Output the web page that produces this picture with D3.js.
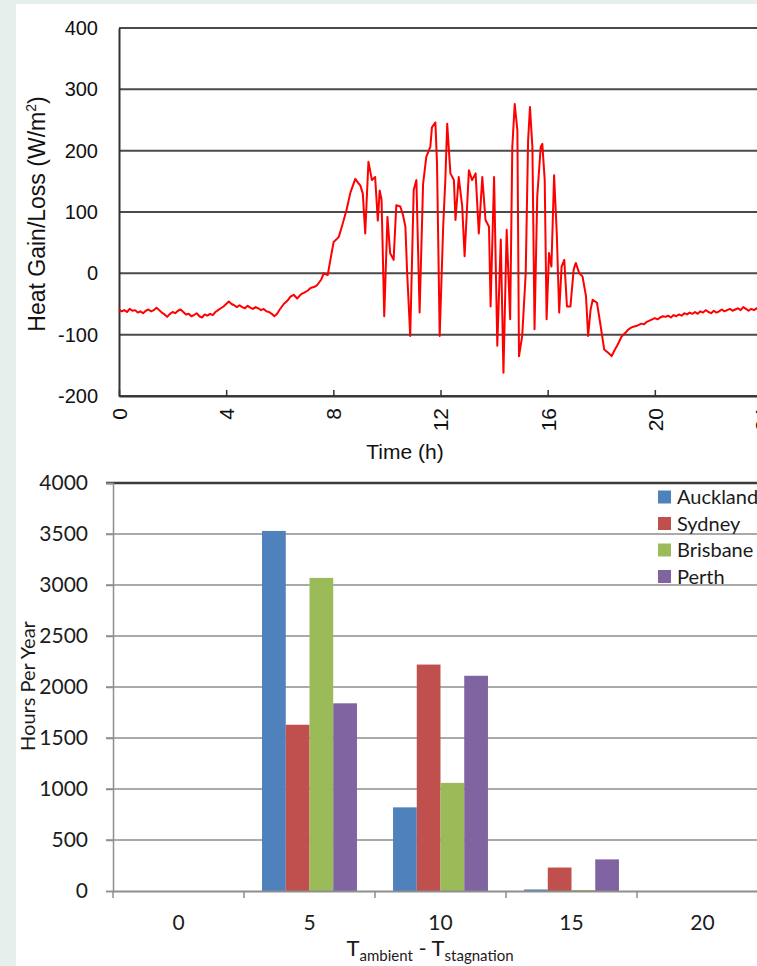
<!DOCTYPE html>
<html>
<head>
<meta charset="utf-8">
<script src="https://cdn.jsdelivr.net/npm/d3@7"></script>
<style>
body { margin: 0; background: #e6efec; }
svg { display: block; }
.line-chart text { font-family: "Liberation Sans", Arial, sans-serif; fill: #111; }
.bar-chart text { font-family: Lato, "Open Sans", sans-serif; fill: #1c1c1c; }
</style>
</head>
<body>
<svg id="chart" width="757" height="966"></svg>
<script>
// top chart: heat gain/loss over one day
var hours = [0.0, 0.1, 0.2, 0.3, 0.4, 0.5, 0.6, 0.7, 0.8, 0.9, 1.0, 1.1, 1.2, 1.3, 1.4, 1.5, 1.6, 1.7, 1.8, 1.9,
	2.0, 2.1, 2.2, 2.3, 2.4, 2.5, 2.6, 2.7, 2.8, 2.9, 3.0, 3.1, 3.2, 3.3, 3.4, 3.5, 3.6, 3.7, 3.8, 3.9,
	4.0, 4.1, 4.2, 4.3, 4.4, 4.5, 4.6, 4.7, 4.8, 4.9, 5.0, 5.1, 5.2, 5.3, 5.4, 5.5, 5.6, 5.7, 5.8, 5.9, 6.0,
	6.15, 6.3, 6.4, 6.52, 6.65, 6.8, 6.9, 7.05, 7.15, 7.3, 7.4, 7.55, 7.64, 7.79, 7.89, 8.01, 8.2, 8.33, 8.49, 8.64,
	8.82, 8.92, 9.01, 9.1, 9.19, 9.31, 9.44, 9.56, 9.66, 9.73, 9.8, 9.9, 10.02, 10.12, 10.25, 10.35, 10.5, 10.6, 10.69, 10.75,
	10.87, 11.0, 11.1, 11.22, 11.35, 11.47, 11.62, 11.68, 11.81, 11.87, 11.97, 12.1, 12.18, 12.25, 12.37, 12.5, 12.56, 12.68, 12.81, 12.9,
	13.06, 13.18, 13.31, 13.43, 13.56, 13.68, 13.81, 13.87, 14.0, 14.12, 14.25, 14.35, 14.47, 14.6, 14.68, 14.77, 14.87, 14.93, 15.05, 15.18,
	15.27, 15.34, 15.43, 15.51, 15.61, 15.74, 15.8, 15.89, 15.96, 16.05, 16.14, 16.24, 16.34, 16.43, 16.52, 16.62, 16.72, 16.85, 16.97, 17.05,
	17.18, 17.3, 17.43, 17.51, 17.6, 17.68, 17.84, 17.96, 18.11, 18.27, 18.39, 18.5, 18.58, 18.76, 18.9,
	19.0, 19.1, 19.2, 19.3, 19.4, 19.5, 19.6, 19.7, 19.8, 19.9, 20.0, 20.1, 20.2, 20.3, 20.4, 20.5, 20.6, 20.7, 20.8, 20.9,
	21.0, 21.1, 21.2, 21.3, 21.4, 21.5, 21.6, 21.7, 21.8, 21.9, 22.0, 22.1, 22.2, 22.3, 22.4, 22.5, 22.6, 22.7, 22.8, 22.9,
	23.0, 23.1, 23.2, 23.3, 23.4, 23.5, 23.6, 23.7, 23.8, 23.9, 24.0];
var heat = [-59, -62, -60, -63, -58, -61, -60, -64, -62, -65, -61, -59, -62, -60, -56, -60, -64, -67, -71, -66,
	-63, -65, -61, -59, -63, -67, -66, -70, -68, -65, -70, -72, -67, -69, -66, -68, -63, -60, -57, -54,
	-50, -46, -50, -52, -55, -52, -55, -57, -53, -56, -58, -55, -57, -60, -58, -62, -63, -66, -70, -66, -59,
	-50, -44, -38, -35, -41, -34, -32, -28, -24, -22, -19, -10, 0, -3, 22, 51, 59, 78, 103, 132,
	154, 148, 143, 130, 65, 182, 152, 157, 86, 135, 120, -70, 92, 33, 22, 111, 109, 95, 76, 6,
	-102, 136, 152, -64, 146, 190, 206, 238, 246, 179, -102, 76, 152, 244, 163, 152, 87, 157, 109, 28,
	168, 152, 163, 65, 157, 87, 76, -54, 157, -118, 55, -162, 71, -75, 206, 276, 233, -135, -102, 0,
	217, 271, 206, -91, 125, 206, 211, 152, -75, 33, 11, 160, 65, -64, 11, 22, -54, -54, 6, 17,
	0, -5, -37, -102, -60, -43, -48, -81, -124, -130, -135, -125, -119, -103, -97,
	-92, -89, -87, -86, -84, -82, -83, -79, -77, -75, -73, -75, -72, -70, -71, -69, -72, -68, -70, -67,
	-69, -65, -67, -64, -66, -63, -66, -62, -64, -60, -63, -65, -61, -64, -62, -59, -62, -60, -58, -61,
	-59, -57, -60, -55, -58, -61, -58, -60, -57, -61, -59];
var heatTicks = [-200, -100, 0, 100, 200, 300, 400];
var hourTicks = [0, 4, 8, 12, 16, 20, 24];

// bottom chart: hours per year by temperature difference
var tempBins = ["0", "5", "10", "15", "20"];
var cities = ["Auckland", "Sydney", "Brisbane", "Perth"];
var auckland = [0, 3530, 820, 15, 0];
var sydney = [0, 1630, 2220, 230, 0];
var brisbane = [0, 3070, 1060, 10, 0];
var perth = [0, 1840, 2110, 310, 0];
var yearTicks = [0, 500, 1000, 1500, 2000, 2500, 3000, 3500, 4000];

var cityColors = ["#4f81bd", "#c0504d", "#9bbb59", "#8064a2"];

var svg = d3.select("#chart");

svg.append("rect")
	.attr("x", 16)
	.attr("y", 4)
	.attr("width", 741)
	.attr("height", 962)
	.attr("fill", "#fff");

// plain hyphen for negatives, like the source chart
function plain(d) { return String(d); }

function drawLineChart(g) {
	var x = d3.scaleLinear().domain([0, 24]).range([119, 762]);
	var y = d3.scaleLinear().domain([-200, 400]).range([396, 28]);

	g.selectAll(".grid")
		.data(heatTicks)
		.enter().append("line")
		.attr("class", "grid")
		.attr("x1", x(0)).attr("x2", x(24))
		.attr("y1", function(d){ return y(d) })
		.attr("y2", function(d){ return y(d) })
		.attr("stroke", "#4a4a4a")
		.attr("stroke-width", 2);

	var yAxis = g.append("g")
		.attr("transform", "translate(" + x(0) + ",0)")
		.call(d3.axisLeft(y).tickValues(heatTicks).tickSize(0).tickPadding(21).tickFormat(plain));
	yAxis.select(".domain").attr("stroke", "#333").attr("stroke-width", 2);
	yAxis.selectAll("text").attr("font-size", 20).attr("fill", "#111");

	var xAxis = g.append("g")
		.attr("transform", "translate(0," + y(-200) + ")")
		.call(d3.axisBottom(x).tickValues(hourTicks).tickSizeInner(-6).tickSizeOuter(0).tickFormat(plain));
	xAxis.select(".domain").attr("stroke", "#333").attr("stroke-width", 2);
	xAxis.selectAll(".tick line").attr("stroke", "#333").attr("stroke-width", 1.5);
	xAxis.selectAll("text")
		.attr("font-size", 21)
		.attr("fill", "#111")
		.attr("text-anchor", "end")
		.attr("y", 0)
		.attr("dy", "0.35em")
		.attr("transform", "translate(0,12) rotate(-90)");

	var line = d3.line()
		.x(function(d, i){ return x(hours[i]) })
		.y(function(d){ return y(d) });

	g.append("path")
		.attr("d", line(heat))
		.attr("fill", "none")
		.attr("stroke", "#ff0000")
		.attr("stroke-width", 2)
		.attr("stroke-linejoin", "round");

	g.append("text")
		.attr("x", 405)
		.attr("y", 459)
		.attr("text-anchor", "middle")
		.attr("font-size", 21)
		.text("Time (h)");

	var title = g.append("text")
		.attr("transform", "translate(45,214) rotate(-90)")
		.attr("text-anchor", "middle")
		.attr("font-size", 23);
	title.append("tspan").text("Heat Gain/Loss (W/m");
	title.append("tspan").attr("font-size", 14).attr("dy", -9).text("2");
	title.append("tspan").attr("dy", 9).text(")");
}

function drawBarChart(g) {
	var series = [auckland, sydney, brisbane, perth];
	var x0 = d3.scaleBand().domain(tempBins).range([113, 768]);
	var x1 = d3.scaleBand().domain(cities).range([0, x0.bandwidth()]).paddingOuter(0.76);
	var y = d3.scaleLinear().domain([0, 4000]).range([891, 483]);

	g.selectAll(".grid")
		.data(yearTicks.slice(1))
		.enter().append("line")
		.attr("x1", x0.range()[0] - 7).attr("x2", x0.range()[1])
		.attr("y1", function(d){ return y(d) })
		.attr("y2", function(d){ return y(d) })
		.attr("stroke", function(d){ return d == 4000 ? "#3a3a3a" : "#8e8e8e" })
		.attr("stroke-width", function(d){ return d == 4000 ? 2.5 : 1.5 });

	var yAxis = g.append("g")
		.attr("transform", "translate(113,0)")
		.call(d3.axisLeft(y).tickValues(yearTicks).tickSize(7).tickPadding(18).tickFormat(plain));
	yAxis.select(".domain").attr("stroke", "#8e8e8e").attr("stroke-width", 1.5);
	yAxis.selectAll(".tick line").attr("stroke", "#8e8e8e").attr("stroke-width", 1.5);
	yAxis.selectAll("text").attr("font-size", 21).attr("fill", "#1c1c1c");

	// bars, one group per temperature bin
	var groups = g.selectAll(".bin")
		.data(tempBins)
		.enter().append("g")
		.attr("transform", function(d){ return "translate(" + x0(d) + ",0)" });

	groups.selectAll("rect")
		.data(function(d, i){ return cities.map(function(c, j){ return {city: c, value: series[j][i], k: j} }) })
		.enter().append("rect")
		.attr("x", function(d){ return x1(d.city) })
		.attr("width", x1.bandwidth())
		.attr("y", function(d){ return y(d.value) })
		.attr("height", function(d){ return y(0) - y(d.value) })
		.attr("fill", function(d){ return cityColors[d.k] });

	var xAxis = g.append("g")
		.attr("transform", "translate(0,891)")
		.call(d3.axisBottom(x0).tickSize(0).tickPadding(24));
	xAxis.select(".domain").attr("stroke", "#8e8e8e").attr("stroke-width", 2);
	xAxis.selectAll("text").attr("font-size", 21).attr("fill", "#1c1c1c");

	// tick marks sit between the bins
	g.selectAll(".bin-tick")
		.data(tempBins.concat(["end"]))
		.enter().append("line")
		.attr("x1", function(d, i){ return x0.range()[0] + i * x0.step() })
		.attr("x2", function(d, i){ return x0.range()[0] + i * x0.step() })
		.attr("y1", 891).attr("y2", 898)
		.attr("stroke", "#8e8e8e")
		.attr("stroke-width", 1.5);

	var legend = g.selectAll(".legend")
		.data(cities)
		.enter().append("g")
		.attr("transform", function(d, i){ return "translate(658," + (497 + i * 26.5) + ")" });
	legend.append("rect")
		.attr("x", 0).attr("y", -6.5)
		.attr("width", 13).attr("height", 13)
		.attr("fill", function(d, i){ return cityColors[i] });
	legend.append("text")
		.attr("x", 19)
		.attr("dy", "0.36em")
		.attr("font-size", 20)
		.text(function(d){ return d });

	var xt = g.append("text")
		.attr("x", 430)
		.attr("y", 956)
		.attr("text-anchor", "middle")
		.attr("font-size", 22);
	xt.append("tspan").text("T");
	xt.append("tspan").attr("font-size", 15).attr("dy", 5).text("ambient");
	xt.append("tspan").attr("dy", -5).text(" - T");
	xt.append("tspan").attr("font-size", 15).attr("dy", 5).text("stagnation");

	g.append("text")
		.attr("transform", "translate(35,686) rotate(-90)")
		.attr("text-anchor", "middle")
		.attr("font-size", 20)
		.text("Hours Per Year");
}

drawLineChart(svg.append("g").attr("class", "line-chart"));
drawBarChart(svg.append("g").attr("class", "bar-chart"));
</script>
</body>
</html>
